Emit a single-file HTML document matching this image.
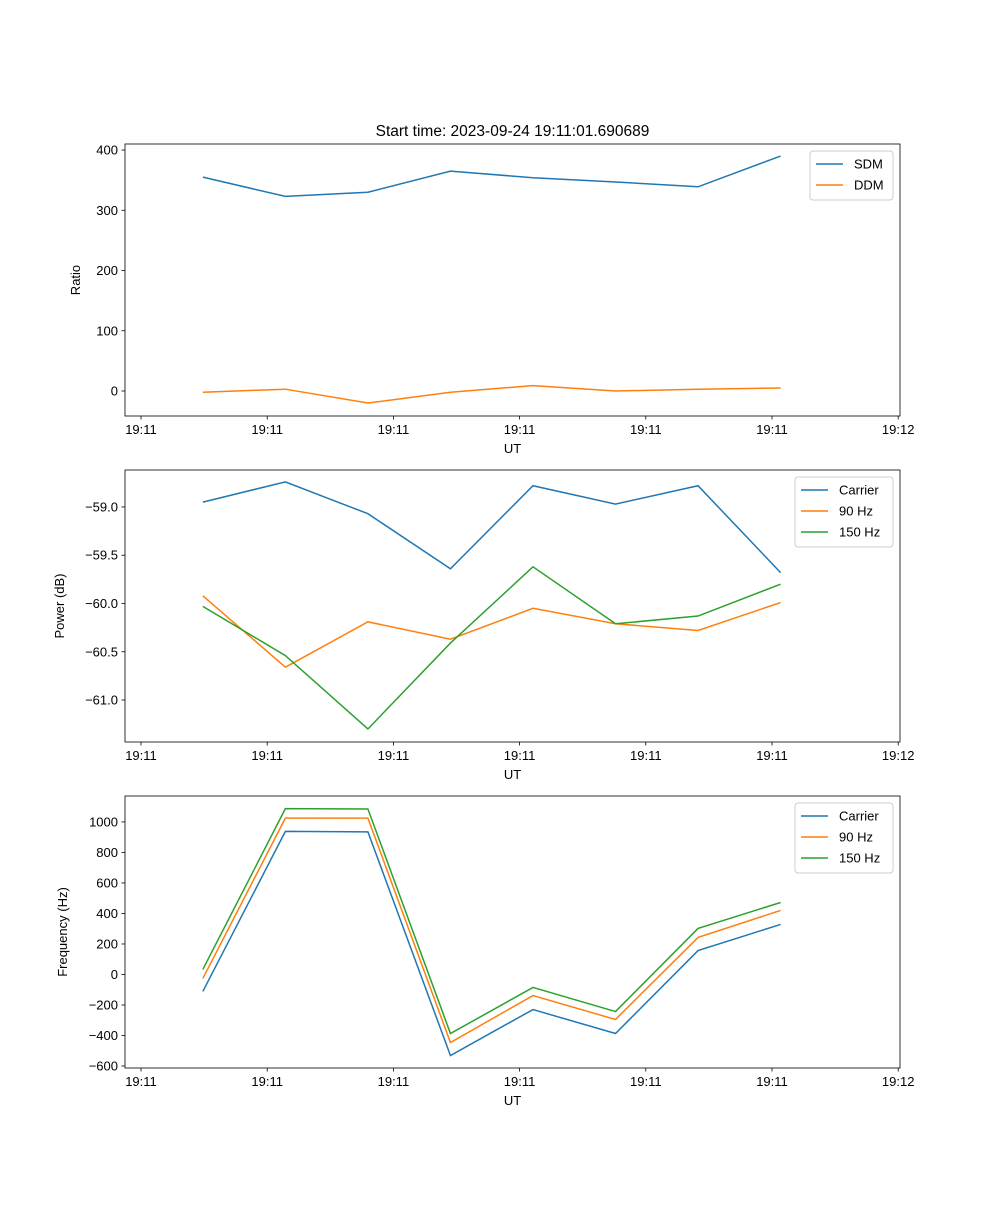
<!DOCTYPE html>
<html><head><meta charset="utf-8"><style>
body{margin:0;background:#fff;}
svg text{font-family:"Liberation Sans","DejaVu Sans",sans-serif;fill:#000;}
</style></head><body>
<svg id="fig" width="1000" height="1200" xmlns="http://www.w3.org/2000/svg"></svg>
<script>
const times = [0.49, 1.144, 1.798, 2.452, 3.106, 3.76, 4.414, 5.068];
const xTickVals = [0,1,2,3,4,5,6];
const xTickLabels = ["19:11","19:11","19:11","19:11","19:11","19:11","19:12"];
const sdm = [355,323,330,365,354,347,339,390];
const ddm = [-2,3,-20,-2,9,0,3,5];
const ratioTicks = [0,100,200,300,400];
const powCarrier = [-58.95,-58.74,-59.07,-59.64,-58.78,-58.97,-58.78,-59.68];
const pow90 = [-59.92,-60.66,-60.19,-60.37,-60.05,-60.21,-60.28,-59.99];
const pow150 = [-60.03,-60.54,-61.30,-60.41,-59.62,-60.21,-60.13,-59.80];
const powTicks = [-61.0,-60.5,-60.0,-59.5,-59.0];
const powTickLabels = ["\u221261.0","\u221260.5","\u221260.0","\u221259.5","\u221259.0"];
const freqCarrier = [-111,938,935,-531,-230,-387,157,328];
const freq90 = [-26,1025,1025,-446,-138,-295,243,420];
const freq150 = [33,1087,1085,-387,-85,-243,302,472];
const freqTicks = [-600,-400,-200,0,200,400,600,800,1000];
const freqTickLabels = ["\u2212600","\u2212400","\u2212200","0","200","400","600","800","1000"];

const NS="http://www.w3.org/2000/svg";
const svg=document.getElementById('fig');
function mk(tag,attrs,parent,text){const e=document.createElementNS(NS,tag);for(const k in attrs)e.setAttribute(k,attrs[k]);if(text!==undefined)e.textContent=text;(parent||svg).appendChild(e);return e;}
const X0=125,X1=900;
const xs=t=>141+t*126.2;
const C=["#1f77b4","#ff7f0e","#2ca02c"];

function panel(name,top,bot,ymin,ymax,yticks,ylabels,ytitle,series,names,leg){
  const g=mk('g',{});
  
  
  const ys=v=>bot-(v-ymin)/(ymax-ymin)*(bot-top);
  series.forEach((s,i)=>{
    const p=mk('polyline',{points:s.map((v,j)=>xs(times[j])+','+ys(v)).join(' '),fill:'none',stroke:C[i],'stroke-width':1.5},g);
    
    
  });
  const fr=mk('rect',{x:X0,y:top,width:X1-X0,height:bot-top,fill:'none',stroke:'#000','stroke-width':0.8},g);
  
  
  xTickVals.forEach((t,i)=>{
    mk('line',{x1:xs(t),x2:xs(t),y1:bot,y2:bot+3.5,stroke:'#000','stroke-width':0.8},g);
    const tx=mk('text',{x:xs(t),y:bot+18,'font-size':13,'text-anchor':'middle'},g,xTickLabels[i]);
    
    
  });
  yticks.forEach((v,i)=>{
    mk('line',{x1:X0-3.5,x2:X0,y1:ys(v),y2:ys(v),stroke:'#000','stroke-width':0.8},g);
    const tx=mk('text',{x:X0-7,y:ys(v)+4.5,'font-size':13,'text-anchor':'end'},g,ylabels[i]);
    
    
  });
  const xt=mk('text',{x:(X0+X1)/2,y:bot+37,'font-size':13,'text-anchor':'middle'},g,'UT');
  
  
  const yx=leg.ytx;
  const yt=mk('text',{x:yx,y:(top+bot)/2,'font-size':13,'text-anchor':'middle',transform:`rotate(-90 ${yx} ${(top+bot)/2})`},g,ytitle);
  
  
  const lg=mk('g',{},g);
  
  
  mk('rect',{x:leg.x,y:top+7,width:leg.w,height:names.length*21+7,rx:3,fill:'#fff',stroke:'#ccc','stroke-width':1},lg);
  names.forEach((n,i)=>{
    const yy=top+7+13+i*21;
    mk('line',{x1:leg.x+6,x2:leg.x+33,y1:yy,y2:yy,stroke:C[i],'stroke-width':1.5},lg);
    const t=mk('text',{x:leg.x+44,y:yy+4.5,'font-size':13},lg,n);
    
    
  });
}
const title=mk('text',{x:512.5,y:136,'font-size':15.5,'text-anchor':'middle'},svg,'Start time: 2023-09-24 19:11:01.690689');


panel('ratio',144,416,-41.5,410,ratioTicks,ratioTicks.map(String),'Ratio',[sdm,ddm],['SDM','DDM'],{x:810,w:83,ytx:80});
panel('power',470,742,-61.435,-58.617,powTicks,powTickLabels,'Power (dB)',[powCarrier,pow90,pow150],['Carrier','90 Hz','150 Hz'],{x:795,w:98,ytx:64});
panel('frequency',796,1068,-613,1170,freqTicks,freqTickLabels,'Frequency (Hz)',[freqCarrier,freq90,freq150],['Carrier','90 Hz','150 Hz'],{x:795,w:98,ytx:67});
</script>
</body></html>
